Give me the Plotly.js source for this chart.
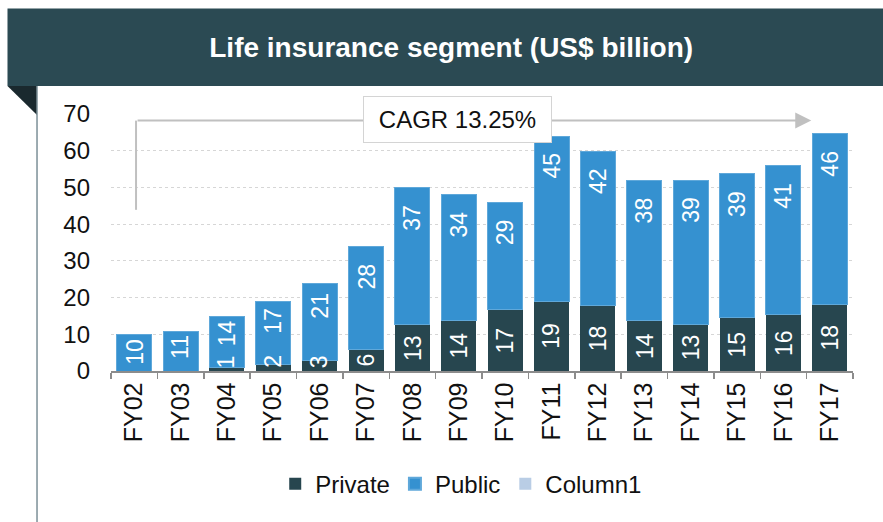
<!DOCTYPE html>
<html>
<head>
<meta charset="utf-8">
<script src="https://cdn.plot.ly/plotly-3.0.1.min.js"></script>
<style>
  html, body { margin: 0; padding: 0; background: #fff; }
  #graph { width: 883px; height: 522px; }
</style>
</head>
<body>
<div id="graph"></div>
<script>
// values (US$ billion)
let years = ["FY02", "FY03", "FY04", "FY05", "FY06", "FY07", "FY08", "FY09",
             "FY10", "FY11", "FY12", "FY13", "FY14", "FY15", "FY16", "FY17"];
let privateVals = [0, 0, 0.9, 1.7, 2.9, 5.8, 12.8, 13.8, 16.7, 18.9, 17.8, 13.8, 12.8, 14.5, 15.5, 18.1];
let publicVals = [9.9, 10.8, 14.0, 17.1, 21.0, 28.1, 37.2, 34.2, 29.3, 45.1, 42.1, 38.2, 39.2, 39.2, 40.5, 46.5];
let privateLabels = ["", "", "1", "2", "3", "6", "13", "14", "17", "19", "18", "14", "13", "15", "16", "18"];
let publicLabels = ["10", "11", "14", "17", "21", "28", "37", "34", "29", "45", "42", "38", "39", "39", "41", "46"];
let cagrText = "CAGR 13.25%";

let font = "Liberation Sans, Arial, sans-serif";
let darkTeal = "#27464F";
let blue = "#3591D0";

function drawGraf() {
    let trace1 = {
        x: years,
        y: privateVals,
        name: "Private",
        type: "bar",
        marker: { color: darkTeal },
        hoverinfo: "skip"
    };

    let trace2 = {
        x: years,
        y: publicVals,
        name: "Public",
        type: "bar",
        marker: { color: blue, line: { color: "#5FA8DA", width: 1 } },
        hoverinfo: "skip"
    };

    let trace3 = {
        x: years,
        y: years.map(function () { return null; }),
        name: "Column1",
        type: "bar",
        marker: { color: "#B9CDE5" },
        hoverinfo: "skip"
    };

    // bar labels, rotated like in the original
    let annotations = [];
    for (let i = 0; i < years.length; i++) {
        if (privateLabels[i] !== "") {
            annotations.push({
                x: i, y: Math.max(privateVals[i] / 2, 2.6),
                xref: "x", yref: "y",
                text: privateLabels[i], showarrow: false, textangle: -90,
                font: { family: font, size: 23, color: "#ffffff" }
            });
        }
        // short bars keep the label close to the top, tall ones a bit lower
        let gap = Math.min(15, Math.max(2, (publicVals[i] - 14) * 1.1));
        annotations.push({
            x: i, y: privateVals[i] + publicVals[i],
            xref: "x", yref: "y", yanchor: "top", yshift: -gap,
            text: publicLabels[i], showarrow: false, textangle: -90,
            font: { family: font, size: 23, color: "#ffffff" }
        });
    }

    // CAGR arrow (horizontal part with head)
    annotations.push({
        x: 14.6, y: 68.2, xref: "x", yref: "y",
        ax: 0.04, ay: 68.2, axref: "x", ayref: "y",
        showarrow: true, arrowhead: 2, arrowsize: 1.6, arrowwidth: 2,
        arrowcolor: "#C0C0C0", text: ""
    });
    // CAGR box
    annotations.push({
        x: 6.98, y: 68.4, xref: "x", yref: "y",
        text: cagrText, showarrow: false,
        width: 185, height: 43,
        bgcolor: "#ffffff", bordercolor: "#D4D4D4", borderwidth: 1, borderpad: 1,
        font: { family: font, size: 24, color: "#111111" }
    });

    let shapes = [
        // header band
        { type: "rect", xref: "paper", yref: "paper", x0: -0.1395, x1: 1.05, y0: 1.109, y1: 1.4105,
          fillcolor: "#2B4A53", line: { width: 0 }, layer: "below" },
        // folded corner
        { type: "path", xref: "paper", yref: "paper",
          path: "M -0.1395 1.109 L -0.0997 1.109 L -0.0997 0.996 Z",
          fillcolor: "#1A292E", line: { width: 0 } },
        // left border line
        { type: "line", xref: "paper", yref: "paper", x0: -0.0997, x1: -0.0997, y0: 1.109, y1: -0.6,
          line: { color: "#7C8F97", width: 1.5 } },
        // CAGR arrow vertical part
        { type: "line", xref: "x", yref: "y", x0: 0.04, x1: 0.04, y0: 43.9, y1: 68.2,
          line: { color: "#C0C0C0", width: 2 } }
    ];

    let layout = {
        width: 883,
        height: 522,
        margin: { l: 111, r: 30, t: 114, b: 151, pad: 0 },
        paper_bgcolor: "#ffffff",
        plot_bgcolor: "#ffffff",
        font: { family: font, size: 24, color: "#111111" },
        title: {
            text: "<b>Life insurance segment (US$ billion)</b>",
            font: { family: font, size: 28, color: "#ffffff" },
            x: 0.511, xanchor: "center",
            y: 0.91, yanchor: "middle", yref: "container"
        },
        barmode: "stack",
        bargap: 0.245,
        showlegend: true,
        legend: {
            orientation: "h",
            x: 0.472, xanchor: "center",
            y: -0.44, yanchor: "middle",
            font: { family: font, size: 24, color: "#111111" },
            itemsizing: "constant",
            traceorder: "normal"
        },
        xaxis: {
            type: "category",
            tickangle: -90,
            showline: true,
            linecolor: "#8C8C8C",
            linewidth: 1.5,
            ticks: "outside",
            tickson: "boundaries",
            ticklen: 6,
            tickcolor: "#8C8C8C",
            tickwidth: 1.5,
            showgrid: false,
            fixedrange: true,
            tickfont: { family: font, size: 25, color: "#111111" }
        },
        yaxis: {
            range: [0, 70],
            dtick: 10,
            showline: false,
            zeroline: false,
            showgrid: true,
            gridcolor: "#D6D6D6",
            griddash: "dot",
            gridwidth: 1,
            ticks: "",
            ticklabelstandoff: 20,
            fixedrange: true,
            tickfont: { family: font, size: 24, color: "#111111" }
        },
        annotations: annotations,
        shapes: shapes
    };

    Plotly.newPlot("graph", [trace1, trace2, trace3], layout, { displayModeBar: false, staticPlot: true });
}

drawGraf();
</script>
</body>
</html>
